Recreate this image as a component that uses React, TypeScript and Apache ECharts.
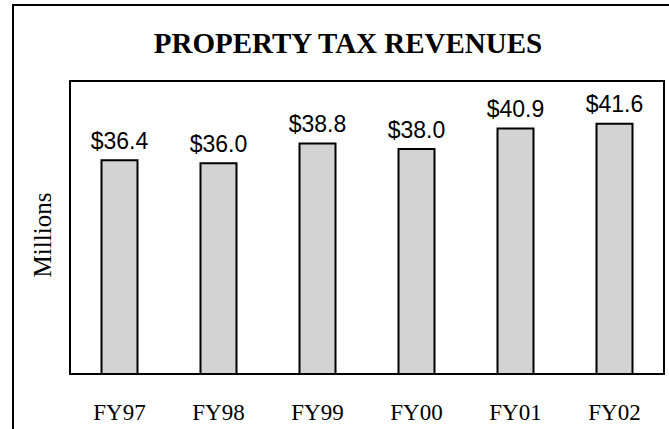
import React, { useEffect, useRef } from "react";
import * as echarts from "echarts";

const categories = ["FY97", "FY98", "FY99", "FY00", "FY01", "FY02"];
const revenues = [36.4, 36.0, 38.8, 38.0, 40.9, 41.6];
const chartTitle = "PROPERTY TAX REVENUES";
const yAxisName = "Millions";

export default function App() {
  const ref = useRef<HTMLDivElement>(null);
  useEffect(() => {
    if (!ref.current) return;
    const chart = echarts.init(ref.current, null, { renderer: "svg" });
    chart.setOption({
      animation: false,
      backgroundColor: "#ffffff",
      title: {
        text: chartTitle,
        left: 343,
        top: 23,
        textAlign: "center",
        textStyle: {
          fontFamily: "Liberation Serif",
          fontWeight: "bold",
          fontSize: 29,
          color: "#000",
        },
      },
      graphic: [
        {
          type: "rect",
          shape: { x: 13, y: 5, width: 700, height: 500 },
          style: { fill: "none", stroke: "#000", lineWidth: 2 },
          silent: true,
        },
      ],
      grid: {
        left: 70,
        right: 5,
        top: 81,
        bottom: 55,
        show: true,
        borderColor: "#000",
        borderWidth: 2,
        backgroundColor: "transparent",
      },
      xAxis: {
        type: "category",
        data: categories,
        axisLine: { show: true, lineStyle: { color: "#000", width: 2 } },
        axisTick: { show: false },
        axisLabel: {
          margin: 27,
          fontFamily: "Liberation Serif",
          fontSize: 23,
          color: "#000",
        },
      },
      yAxis: {
        type: "value",
        min: 6,
        max: 47.5,
        axisLine: { show: false },
        axisTick: { show: false },
        axisLabel: { show: false },
        splitLine: { show: false },
        name: yAxisName,
        nameLocation: "middle",
        nameRotate: 90,
        nameGap: 15,
        nameTextStyle: {
          fontFamily: "Liberation Serif",
          fontSize: 25,
          color: "#000",
          padding: [0, 15, 0, 0],
        },
      },
      series: [
        {
          type: "bar",
          data: revenues,
          barWidth: 38,
          itemStyle: { color: "#d3d3d3", borderColor: "#000", borderWidth: 2 },
          label: {
            show: true,
            position: "top",
            distance: 7,
            fontFamily: "Liberation Sans",
            fontSize: 23,
            color: "#000",
            formatter: (p: any) => "$" + Number(p.value).toFixed(1),
          },
        },
      ],
    });
    return () => chart.dispose();
  }, []);
  return (
    <div
      ref={ref}
      style={{ position: "fixed", left: 0, top: 0, width: 669, height: 429 }}
    />
  );
}
